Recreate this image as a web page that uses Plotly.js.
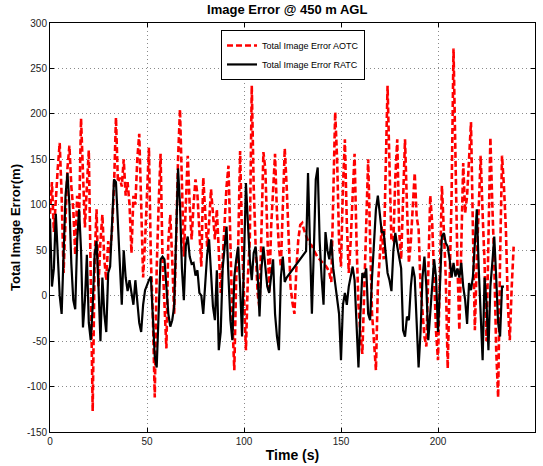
<!DOCTYPE html>
<html>
<head>
<meta charset="utf-8">
<script src="https://cdn.plot.ly/plotly-3.0.1.min.js"></script>
<style>html,body{margin:0;padding:0;background:#fff;}#chart{width:543px;height:466px;}</style>
</head>
<body>
<div id="chart"></div>
<script>
// Time grid start (s) and sampling step (s)
const tStart = 0;
const tStep = 1;

// Total Image Error AOTC (m), one value per second from t = 0
const aotc = [
  90,125,70,110,140,168,110,25,90,140,
  165,120,95,45,110,85,195,130,75,120,
  160,20,-127,40,95,10,60,89,40,17,
  60,47,73,120,196,125,130,120,150,110,
  125,100,47,110,100,150,178,100,20,60,
  120,163,40,-20,-112,30,100,156,40,-20,
  -58,60,89,40,-20,60,150,205,110,43,
  100,154,100,62,100,128,111,70,32,130,
  85,54,80,117,90,62,95,40,3,40,
  80,120,143,40,-27,-82,20,54,159,60,
  3,-60,20,62,231,120,54,3,-14,80,
  158,139,60,3,76,120,156,90,54,32,
  100,162,120,60,10,-8,-20,30,62,78,
  80,72,65,60,57,55,50,45,42,40,
  38,35,33,30,25,15,100,202,150,60,
  32,120,172,80,25,60,110,156,60,-10,
  -42,-64,6,90,150,62,-20,-50,-82,10,
  40,76,40,130,231,143,60,60,130,172,
  70,40,100,172,99,36,60,100,135,87,
  73,10,-20,-45,-56,25,110,80,17,-40,
  -71,40,121,73,20,-80,30,110,272,150,
  36,-38,73,146,91,110,150,191,73,-38,
  40,110,154,90,36,-50,60,174,100,36,
  -60,-112,40,154,120,73,-10,-49,10,54
];

// Total Image Error RATC (m), one value per second from t = 0 (null = no samples, joined by a straight line)
const ratc = [
  85,10,30,90,45,0,-20,40,110,135,
  100,35,-5,-15,60,95,50,-35,-5,45,
  -30,-49,-12,45,60,10,-50,20,-20,-40,
  25,32,76,128,125,80,20,-10,50,20,
  5,17,3,-10,17,-12,-30,-40,-10,6,
  12,17,21,-25,-67,-79,-10,40,43,40,
  10,-20,-34,-27,-12,60,140,100,30,-5,
  55,65,43,35,36,22,28,3,0,-20,
  10,45,62,20,-12,-27,28,-60,-40,30,
  54,76,20,-27,-49,20,40,54,10,-45,
  40,124,80,40,17,47,54,25,-23,30,
  54,30,10,3,25,40,-20,-45,-60,20,
  43,15,20,null,null,null,null,null,null,null,
  null,null,49,135,60,-20,50,128,141,60,
  20,-10,70,50,40,62,30,14,-5,-20,
  -71,-10,3,-10,10,20,32,17,-40,-79,
  -20,25,20,30,-20,-27,20,61,95,110,
  91,70,70,43,25,17,5,50,69,54,
  40,30,-38,-45,-23,-27,10,32,20,-40,
  -79,-40,20,43,10,-49,-20,3,40,20,
  -40,10,65,69,58,54,40,20,36,21,
  30,20,36,10,-5,-31,14,6,21,58,
  95,30,-20,-71,20,-8,-60,10,36,65,
  20,-30,-45,10,10
];

const seriesNames = ['Total Image Error AOTC', 'Total Image Error RATC'];
const xTicks = [0, 50, 100, 150, 200, 250];
const yTicks = [-150, -100, -50, 0, 50, 100, 150, 200, 250, 300];

const tA = aotc.map((_, i) => tStart + i * tStep);
const tR = ratc.map((_, i) => tStart + i * tStep);

const FONT = 'Liberation Sans, Arial, Helvetica, sans-serif';

const traces = [
  {
    x: tA, y: aotc, name: seriesNames[0], type: 'scatter', mode: 'lines',
    line: {color: '#ff0000', width: 2.6, dash: '6px,3px'}
  },
  {
    x: tR, y: ratc, name: seriesNames[1], type: 'scatter', mode: 'lines',
    connectgaps: true,
    line: {color: '#000000', width: 2.2}
  }
];

const axisCommon = {
  showline: true, linecolor: '#000', linewidth: 1, mirror: 'ticks',
  ticks: 'inside', ticklen: 4, tickcolor: '#000',
  showgrid: true, gridcolor: '#8a8a8a', griddash: '1px,3px', gridwidth: 1,
  zeroline: false,
  tickfont: {family: FONT, size: 10, color: '#222'}
};

const layout = {
  width: 543, height: 466,
  margin: {l: 50, r: 8, t: 23, b: 34},
  paper_bgcolor: '#fff', plot_bgcolor: '#fff',
  showlegend: true,
  title: {
    text: '<b>Image Error @ 450 m AGL</b>',
    font: {family: FONT, size: 13, color: '#000'},
    x: 0.529, xanchor: 'center', y: 0.979, yanchor: 'middle', yref: 'container'
  },
  xaxis: Object.assign({}, axisCommon, {
    range: [0, 250], tickvals: xTicks, ticktext: xTicks.map(String),
    title: {text: '<b>Time (s)</b>', font: {family: FONT, size: 14, color: '#000'}, standoff: 4}
  }),
  yaxis: Object.assign({}, axisCommon, {
    range: [-150, 300], tickvals: yTicks, ticktext: yTicks.map(String),
    title: {text: '<b>Total Image Error(m)</b>', font: {family: FONT, size: 13, color: '#000'}, standoff: 3}
  }),
  legend: {
    x: 0.3526, y: 0.983, xanchor: 'left', yanchor: 'top',
    bgcolor: '#fff', bordercolor: '#000', borderwidth: 1,
    font: {family: FONT, size: 9, color: '#000'},
    tracegroupgap: 0, itemwidth: 30
  }
};

Plotly.newPlot('chart', traces, layout, {displayModeBar: false, staticPlot: true});
</script>
</body>
</html>
